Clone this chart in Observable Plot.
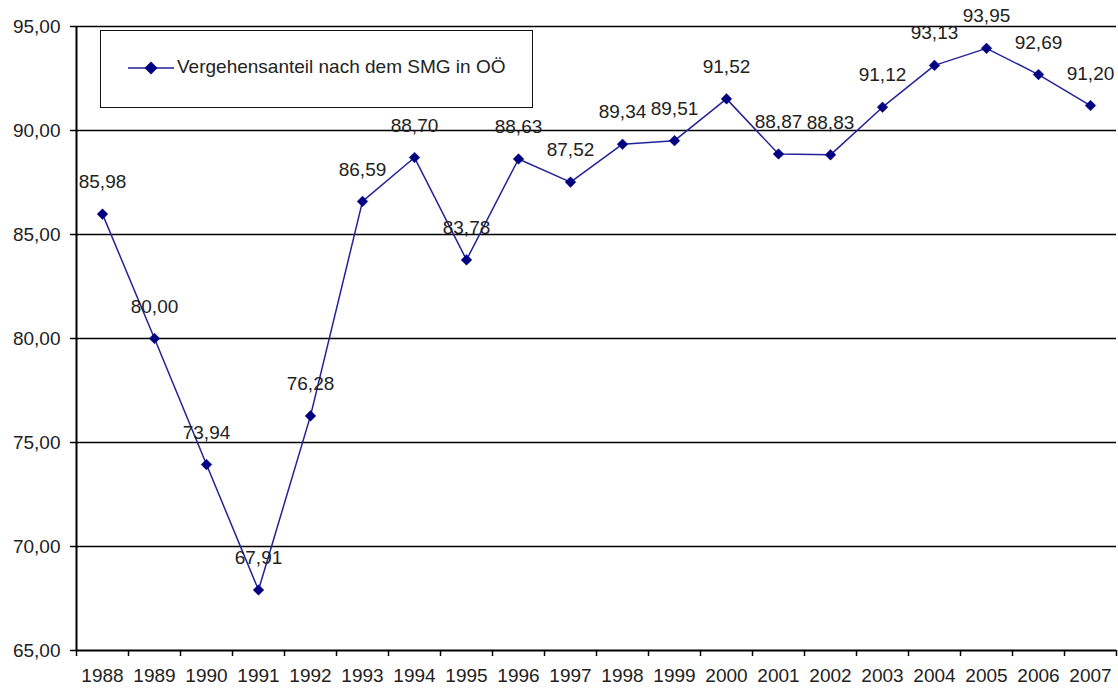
<!DOCTYPE html>
<html>
<head>
<meta charset="utf-8">
<script src="https://cdn.jsdelivr.net/npm/d3@7"></script>
<script src="https://cdn.jsdelivr.net/npm/@observablehq/plot@0.6"></script>
<style>
  html, body { margin: 0; padding: 0; background: #fff; }
  #wrap { position: relative; width: 1118px; height: 688px; font-family: "Liberation Sans", Arial, sans-serif; }
  #legend { position: absolute; left: 100px; top: 30px; width: 431px; height: 76px; border: 1.5px solid #111; background: #fff; box-sizing: content-box; }
  #legend svg { position: absolute; left: 25px; top: 29px; }
  #legend span { position: absolute; left: 76px; top: 25px; font-size: 19px; color: #222; white-space: nowrap; }
</style>
</head>
<body>
<div id="wrap"></div>
<script>
const years = [1988, 1989, 1990, 1991, 1992, 1993, 1994, 1995, 1996, 1997, 1998, 1999, 2000, 2001, 2002, 2003, 2004, 2005, 2006, 2007];
const values = [85.98, 80.00, 73.94, 67.91, 76.28, 86.59, 88.70, 83.78, 88.63, 87.52, 89.34, 89.51, 91.52, 88.87, 88.83, 91.12, 93.13, 93.95, 92.69, 91.20];
const yTicks = [65, 70, 75, 80, 85, 90, 95];
const seriesName = "Vergehensanteil nach dem SMG in OÖ";

const data = years.map((y, i) => ({year: y, value: values[i]}));
const fmt = v => v.toFixed(2).replace(".", ",");
const boundaries = d3.range(years.length + 1).map(i => years[0] - 0.5 + i);
const lineColor = "#22229a";
const markColor = "#000080";

const chart = Plot.plot({
  width: 1118,
  height: 688,
  marginLeft: 76,
  marginRight: 2,
  marginTop: 26,
  marginBottom: 38,
  style: {fontFamily: "'Liberation Sans', Arial, sans-serif", fontSize: "19px", color: "#222", background: "#fff"},
  x: {domain: [boundaries[0], boundaries[boundaries.length - 1]]},
  y: {domain: [65, 95]},
  marks: [
    Plot.ruleY(yTicks.slice(1), {stroke: "#000", strokeWidth: 1.5}),
    Plot.axisY({ticks: yTicks, tickFormat: fmt, tickSize: 6, tickPadding: 10, stroke: "#000", strokeWidth: 1.5, fill: "#222", fontSize: 19, label: null}),
    Plot.axisX({ticks: boundaries, tickFormat: () => "", tickSize: 6, stroke: "#000", strokeWidth: 1.5, label: null}),
    Plot.axisX({ticks: years, tickFormat: d => String(d), tickSize: 0, tickPadding: 18, fill: "#222", fontSize: 19, label: null}),
    Plot.ruleY([65], {stroke: "#000", strokeWidth: 2}),
    Plot.ruleX([boundaries[0]], {stroke: "#000", strokeWidth: 2}),
    Plot.line(data, {x: "year", y: "value", stroke: lineColor, strokeWidth: 1.5}),
    Plot.dot(data, {x: "year", y: "value", symbol: "diamond2", r: 4.8, fill: markColor, stroke: markColor, strokeWidth: 0.5}),
    Plot.text(data, {x: "year", y: "value", text: d => fmt(d.value), dy: -32, fontSize: 19, fill: "#222"})
  ]
});

const wrap = document.getElementById("wrap");
wrap.appendChild(chart);

const legend = document.createElement("div");
legend.id = "legend";
legend.innerHTML = `<svg width="50" height="16"><line x1="2" x2="48" y1="8" y2="8" stroke="${lineColor}" stroke-width="1.5"/><path d="M25,1.5 L31.5,8 L25,14.5 L18.5,8 Z" fill="${markColor}"/></svg><span></span>`;
legend.querySelector("span").textContent = seriesName;
wrap.appendChild(legend);
</script>
</body>
</html>
